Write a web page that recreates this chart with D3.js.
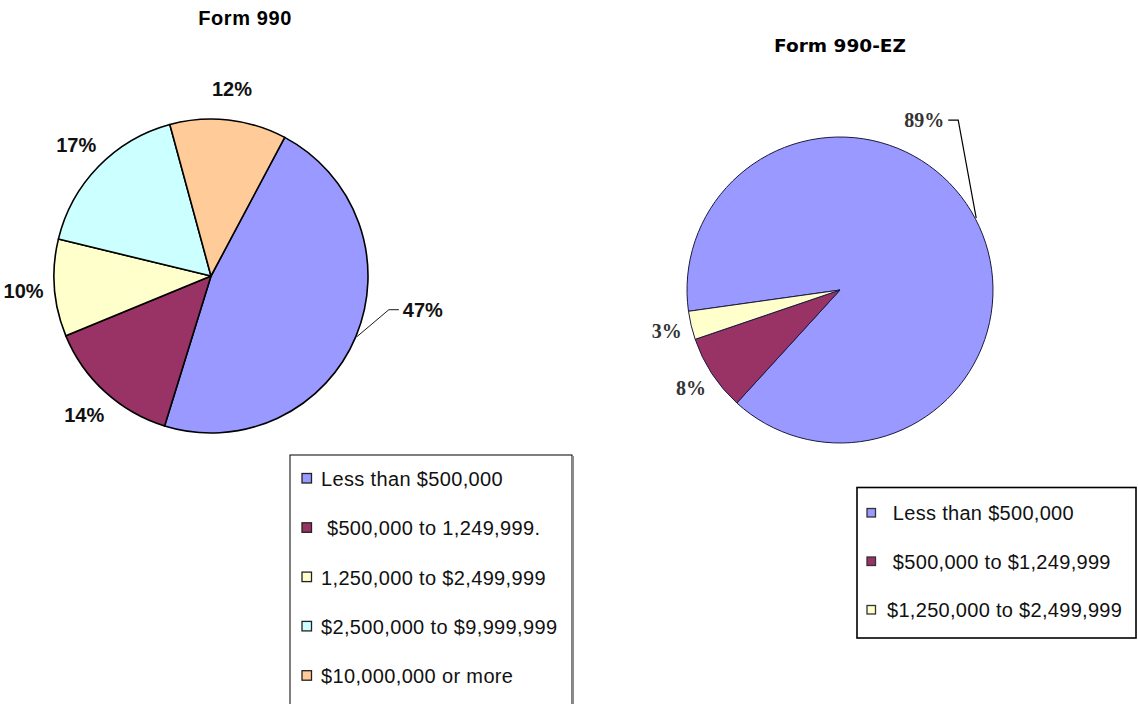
<!DOCTYPE html>
<html>
<head>
<meta charset="utf-8">
<script src="https://cdn.jsdelivr.net/npm/d3@7"></script>
<style>
  body { margin: 0; background: #fff; }
  svg { display: block; }
  text { white-space: pre; }
</style>
</head>
<body>
<svg id="chart" width="1138" height="704"></svg>
<script>
// Form 990 – share of filers by total assets
const form990Title = "Form 990"
const form990Labels = ["Less than $500,000", " $500,000 to 1,249,999.", "1,250,000 to $2,499,999", "$2,500,000 to $9,999,999", "$10,000,000 or more"]
const form990Values = [47, 14, 10, 17, 12]

// Form 990-EZ
const formEZTitle = "Form 990-EZ"
const formEZLabels = [" Less than $500,000", " $500,000 to $1,249,999", "$1,250,000 to $2,499,999"]
const formEZValues = [89, 8, 3]

const sliceColors = ["#9999ff", "#993366", "#ffffcc", "#ccffff", "#ffcc99"]

const svg = d3.select("#chart")
svg.append("rect").attr("width", 1138).attr("height", 704).attr("fill", "#fff")

function drawPie(opts) {
    const g = svg.append("g").attr("transform", "translate(" + opts.cx + "," + opts.cy + ")")
    const start = opts.startDeg * Math.PI / 180
    const pie = d3.pie().sort(null).startAngle(start).endAngle(start + 2 * Math.PI)
    const arcs = pie(opts.values)
    const arc = d3.arc().innerRadius(0).outerRadius(opts.r)
    const labelArc = d3.arc().innerRadius(opts.labelR).outerRadius(opts.labelR)

    g.selectAll(".slice")
        .data(arcs)
        .enter()
        .append("path")
        .attr("class", "slice")
        .attr("d", arc)
        .style("fill", (d, i) => sliceColors[i])
        .style("stroke", opts.stroke)
        .style("stroke-width", opts.strokeWidth)
        .style("stroke-linejoin", "round")

    // labels; the first slice gets a leader line
    arcs.forEach((d, i) => {
        const mid = (d.startAngle + d.endAngle) / 2
        if (i === 0) {
            const px = Math.sin(mid) * (opts.r + 1)
            const py = -Math.cos(mid) * (opts.r + 1)
            const ex = px + opts.leader[0]
            const ey = py + opts.leader[1]
            const hx = ex + opts.leader[2]
            g.append("polyline")
                .attr("points", [[px, py], [ex, ey], [hx, ey]].map(p => p.join(",")).join(" "))
                .style("fill", "none")
                .style("stroke", "#000")
                .style("stroke-width", opts.leaderWidth)
            g.append("text")
                .attr("x", hx + (opts.leader[2] > 0 ? 4 : -4))
                .attr("y", ey)
                .attr("dy", "0.36em")
                .attr("text-anchor", opts.leader[2] > 0 ? "start" : "end")
                .style("font", opts.labelFont)
                .style("fill", opts.labelColor)
                .text(d.data + "%")
        } else {
            const c = labelArc.centroid(d)
            g.append("text")
                .attr("x", c[0])
                .attr("y", c[1])
                .attr("dy", "0.36em")
                .attr("text-anchor", "middle")
                .style("font", opts.labelFont)
                .style("fill", opts.labelColor)
                .text(d.data + "%")
        }
    })

    svg.append("text")
        .attr("x", opts.titleX)
        .attr("y", opts.titleY)
        .attr("text-anchor", "middle")
        .style("font", opts.titleFont)
        .style("letter-spacing", opts.titleSpacing)
        .style("fill", "#000")
        .text(opts.title)

    // legend box
    const lg = svg.append("g").attr("transform", "translate(" + opts.legend.x + "," + opts.legend.y + ")")
    lg.append("rect")
        .attr("width", opts.legend.w)
        .attr("height", opts.legend.h)
        .style("fill", "#fff")
        .style("stroke", "#000")
        .style("stroke-width", opts.legend.border)
    if (opts.legend.shadow) {
        lg.append("line")
            .attr("x1", opts.legend.w + 1).attr("x2", opts.legend.w + 1)
            .attr("y1", 1).attr("y2", opts.legend.h)
            .style("stroke", "#8a8a8a")
            .style("stroke-width", 2)
    }
    const rows = lg.selectAll(".item")
        .data(opts.labels)
        .enter()
        .append("g")
        .attr("class", "item")
        .attr("transform", (d, i) => "translate(0," + (opts.legend.first + i * opts.legend.step) + ")")
    rows.append("rect")
        .attr("x", opts.legend.swatchX)
        .attr("y", -opts.legend.swatch - 3)
        .attr("width", opts.legend.swatch)
        .attr("height", opts.legend.swatch)
        .style("fill", (d, i) => sliceColors[i])
        .style("stroke", opts.legend.swatchStroke)
        .style("stroke-width", 1.3)
    rows.append("text")
        .attr("x", opts.legend.textX)
        .attr("y", 0)
        .style("font", opts.legend.font)
        .style("letter-spacing", opts.legend.spacing)
        .style("fill", "#111")
        .text(d => d)
}

drawPie({
    title: form990Title, values: form990Values, labels: form990Labels,
    cx: 211, cy: 276, r: 157, startDeg: 28, labelR: 188,
    stroke: "#000", strokeWidth: 1.6,
    labelFont: "bold 20px 'Liberation Sans', Arial, sans-serif", labelColor: "#111",
    leader: [32, -27, 10], leaderWidth: 0.9,
    titleX: 245, titleY: 25, titleFont: "bold 20px 'Liberation Sans', Arial, sans-serif", titleSpacing: "0.6px",
    legend: { x: 290, y: 455, w: 282, h: 270, border: 1, shadow: true, first: 31, step: 49.3,
        swatchX: 12, swatch: 9.5, swatchStroke: "#222", textX: 31,
        font: "20px 'Liberation Sans', Arial, sans-serif", spacing: "0.35px" }
})

drawPie({
    title: formEZTitle, values: formEZValues, labels: formEZLabels,
    cx: 840, cy: 290, r: 153, startDeg: 262, labelR: 178,
    stroke: "#1a1a40", strokeWidth: 1,
    labelFont: "bold 20px 'Liberation Serif', 'Times New Roman', serif", labelColor: "#333",
    leader: [-18, -98, -10], leaderWidth: 1.2,
    titleX: 840, titleY: 52, titleFont: "bold 18.5px 'DejaVu Sans', Verdana, sans-serif", titleSpacing: "0px",
    legend: { x: 857, y: 487.5, w: 279, h: 150.5, border: 1.6, shadow: false, first: 32.5, step: 48.5,
        swatchX: 10, swatch: 8.5, swatchStroke: "#333", textX: 30,
        font: "20px 'Liberation Sans', Arial, sans-serif", spacing: "0.3px" }
})
</script>
</body>
</html>
